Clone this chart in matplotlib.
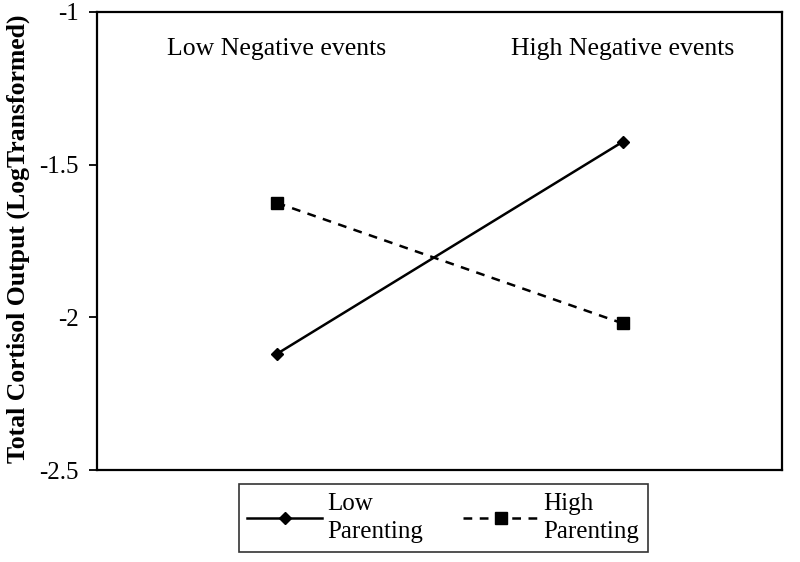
import matplotlib
matplotlib.use("Agg")
import matplotlib.pyplot as plt

plt.rcParams['font.family'] = ['Liberation Serif', 'DejaVu Serif']

groups = ["Low Negative events", "High Negative events"]
x_pos = [1, 2]
low_parenting = [-2.12, -1.425]
high_parenting = [-1.625, -2.02]
y_ticks = [-2.5, -2, -1.5, -1]
y_tick_labels = ["-2.5", "-2", "-1.5", "-1"]

fig = plt.figure(figsize=(8, 5.62), dpi=100)
ax = fig.add_axes([0.121, 0.1637, 0.8565, 0.815])

l1, = ax.plot(x_pos, low_parenting, color='black', linestyle='-', linewidth=1.8,
              marker='D', markersize=6.5, label="Low\nParenting")
l2, = ax.plot(x_pos, high_parenting, color='black', linestyle=(0, (3.5, 3)), linewidth=1.8,
              marker='s', markersize=9, label="High\nParenting")

ax.set_xlim(0.48, 2.46)
ax.set_ylim(-2.5, -1)
ax.set_xticks([])
ax.set_yticks(y_ticks)
ax.set_yticklabels(y_tick_labels, fontsize=18)
ax.tick_params(axis='y', direction='out', length=6, width=1.3, pad=7)
for s in ax.spines.values():
    s.set_linewidth(1.6)

for xp, g in zip(x_pos, groups):
    ax.text(xp, -1.12, g, ha='center', va='center', fontsize=18.5)

ax.set_ylabel("Total Cortisol Output (LogTransformed)", fontsize=18.5, fontweight='bold')
ax.yaxis.set_label_coords(-0.097, 0.505)

leg = fig.legend(handles=[l1, l2], ncol=2, loc='center',
                 bbox_to_anchor=(0.554, 0.0783), fontsize=18, frameon=True,
                 fancybox=False, edgecolor='black', handlelength=3.0,
                 columnspacing=1.6, borderpad=0.35, handletextpad=0.2)
for t in leg.get_texts():
    t.set_linespacing(1.35)
leg.get_frame().set_linewidth(1.2)

fig.savefig("out.png", dpi=100)
